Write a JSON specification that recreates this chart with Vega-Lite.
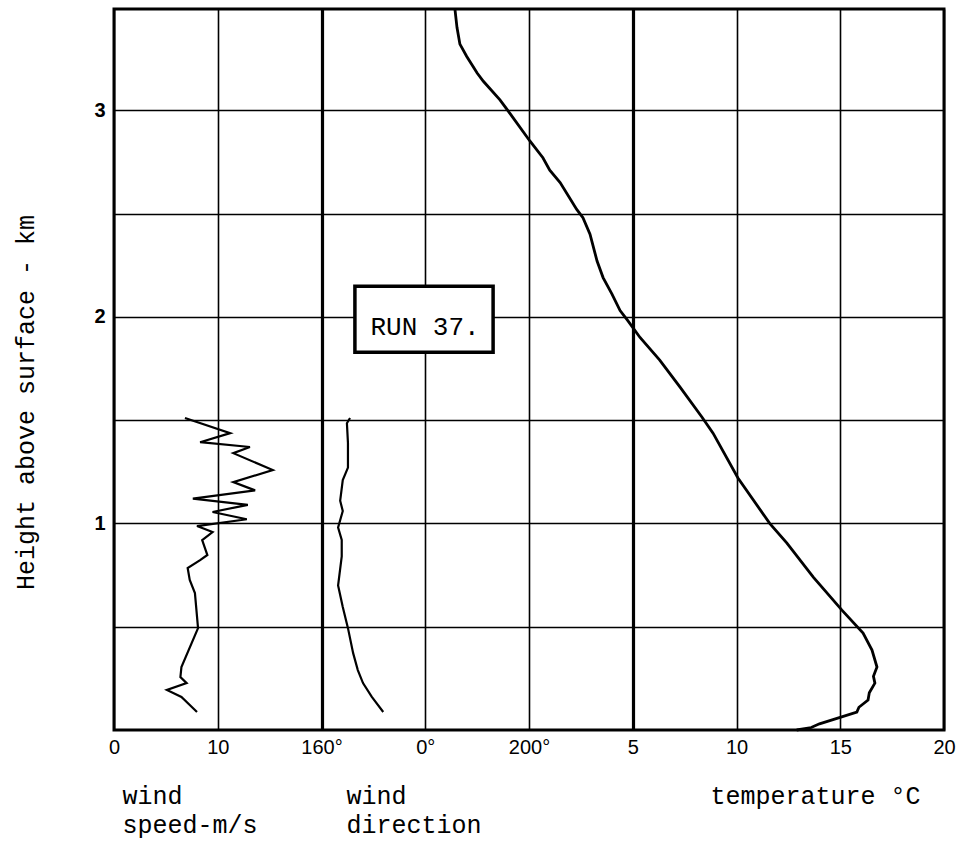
{
  "$schema": "https://vega.github.io/schema/vega-lite/v6.json",
  "width": 830,
  "height": 721,
  "autosize": {"type": "none"},
  "padding": {"left": 114, "top": 9, "right": 24, "bottom": 112},
  "background": "white",
  "config": {
    "view": {"stroke": "black", "strokeWidth": 3},
    "axis": {
      "grid": true,
      "gridColor": "black",
      "gridOpacity": 1,
      "gridWidth": 1.6,
      "domain": false,
      "ticks": false,
      "labelFont": "Liberation Sans",
      "labelFontSize": 20,
      "labelColor": "black",
      "labelFlush": false,
      "labelOverlap": false,
      "titleFont": "Liberation Mono",
      "titleFontSize": 25,
      "titleFontWeight": "normal",
      "titleColor": "black"
    }
  },
  "datasets": {
    "profiles": [
      {"series": "temperature", "km": 0.0, "value": 12.9},
      {"series": "temperature", "km": 0.012, "value": 13.6},
      {"series": "temperature", "km": 0.03, "value": 14.0},
      {"series": "temperature", "km": 0.05, "value": 14.65},
      {"series": "temperature", "km": 0.087, "value": 15.8},
      {"series": "temperature", "km": 0.11, "value": 15.9},
      {"series": "temperature", "km": 0.145, "value": 16.34},
      {"series": "temperature", "km": 0.18, "value": 16.4},
      {"series": "temperature", "km": 0.227, "value": 16.67},
      {"series": "temperature", "km": 0.26, "value": 16.6},
      {"series": "temperature", "km": 0.305, "value": 16.77},
      {"series": "temperature", "km": 0.387, "value": 16.53},
      {"series": "temperature", "km": 0.469, "value": 16.1},
      {"series": "temperature", "km": 0.58, "value": 15.08},
      {"series": "temperature", "km": 0.74, "value": 13.7},
      {"series": "temperature", "km": 0.905, "value": 12.43},
      {"series": "temperature", "km": 1.0, "value": 11.6},
      {"series": "temperature", "km": 1.22, "value": 10.07},
      {"series": "temperature", "km": 1.437, "value": 8.87},
      {"series": "temperature", "km": 1.514, "value": 8.34},
      {"series": "temperature", "km": 1.66, "value": 7.28},
      {"series": "temperature", "km": 1.79, "value": 6.3},
      {"series": "temperature", "km": 1.9, "value": 5.35},
      {"series": "temperature", "km": 1.98, "value": 4.77},
      {"series": "temperature", "km": 2.03, "value": 4.39},
      {"series": "temperature", "km": 2.11, "value": 4.0},
      {"series": "temperature", "km": 2.19, "value": 3.57},
      {"series": "temperature", "km": 2.27, "value": 3.28},
      {"series": "temperature", "km": 2.4, "value": 2.94},
      {"series": "temperature", "km": 2.48, "value": 2.6},
      {"series": "temperature", "km": 2.52, "value": 2.3},
      {"series": "temperature", "km": 2.65, "value": 1.5},
      {"series": "temperature", "km": 2.71, "value": 1.0},
      {"series": "temperature", "km": 2.77, "value": 0.67},
      {"series": "temperature", "km": 2.85, "value": 0.05},
      {"series": "temperature", "km": 2.985, "value": -0.92},
      {"series": "temperature", "km": 3.05, "value": -1.4},
      {"series": "temperature", "km": 3.14, "value": -2.2},
      {"series": "temperature", "km": 3.18, "value": -2.5},
      {"series": "temperature", "km": 3.26, "value": -3.0},
      {"series": "temperature", "km": 3.32, "value": -3.33},
      {"series": "temperature", "km": 3.4, "value": -3.47},
      {"series": "temperature", "km": 3.49, "value": -3.57},
      {"series": "speed", "km": 0.087, "value": 8.0},
      {"series": "speed", "km": 0.16, "value": 6.5},
      {"series": "speed", "km": 0.194, "value": 5.1},
      {"series": "speed", "km": 0.227, "value": 7.0},
      {"series": "speed", "km": 0.256, "value": 6.4},
      {"series": "speed", "km": 0.305, "value": 6.5},
      {"series": "speed", "km": 0.493, "value": 8.1},
      {"series": "speed", "km": 0.663, "value": 7.8},
      {"series": "speed", "km": 0.726, "value": 7.3},
      {"series": "speed", "km": 0.784, "value": 7.1},
      {"series": "speed", "km": 0.822, "value": 8.3},
      {"series": "speed", "km": 0.847, "value": 9.0},
      {"series": "speed", "km": 0.919, "value": 8.5},
      {"series": "speed", "km": 0.958, "value": 9.5},
      {"series": "speed", "km": 0.987, "value": 8.0},
      {"series": "speed", "km": 1.02, "value": 12.8},
      {"series": "speed", "km": 1.055, "value": 9.5},
      {"series": "speed", "km": 1.09, "value": 12.9},
      {"series": "speed", "km": 1.12, "value": 7.6},
      {"series": "speed", "km": 1.16, "value": 13.6},
      {"series": "speed", "km": 1.2, "value": 11.5},
      {"series": "speed", "km": 1.258, "value": 15.3},
      {"series": "speed", "km": 1.34, "value": 11.5},
      {"series": "speed", "km": 1.37, "value": 13.1},
      {"series": "speed", "km": 1.393, "value": 8.3},
      {"series": "speed", "km": 1.437, "value": 11.2},
      {"series": "speed", "km": 1.51, "value": 6.84},
      {"series": "direction", "km": 0.087, "value": 171.9},
      {"series": "direction", "km": 0.16, "value": 169.7},
      {"series": "direction", "km": 0.227, "value": 168.0},
      {"series": "direction", "km": 0.29, "value": 167.0},
      {"series": "direction", "km": 0.372, "value": 166.1},
      {"series": "direction", "km": 0.493, "value": 165.1},
      {"series": "direction", "km": 0.595, "value": 164.1},
      {"series": "direction", "km": 0.7, "value": 163.2},
      {"series": "direction", "km": 0.84, "value": 163.9},
      {"series": "direction", "km": 0.92, "value": 163.9},
      {"series": "direction", "km": 0.98, "value": 163.2},
      {"series": "direction", "km": 1.06, "value": 164.1},
      {"series": "direction", "km": 1.11, "value": 163.6},
      {"series": "direction", "km": 1.21, "value": 164.1},
      {"series": "direction", "km": 1.27, "value": 165.1},
      {"series": "direction", "km": 1.39, "value": 165.1},
      {"series": "direction", "km": 1.485, "value": 164.9},
      {"series": "direction", "km": 1.51, "value": 165.5}
    ]
  },
  "data": {"name": "profiles"},
  "layer": [
    {
      "transform": [{"filter": "datum.series == 'speed'"}],
      "mark": {"type": "line", "color": "black", "strokeWidth": 2.2},
      "encoding": {
        "order": {"field": "km", "type": "quantitative"},
        "y": {
          "field": "km",
          "type": "quantitative",
          "scale": {"domain": [0, 3.49], "nice": false, "zero": false},
          "axis": {
            "grid": true,
            "values": [0.5, 1, 1.5, 2, 2.5, 3],
            "labelExpr": "datum.value % 1 == 0 ? format(datum.value, 'd') : ''",
            "labelFontWeight": "bold",
            "labelPadding": 9,
            "title": "Height above surface - km",
            "titleX": -89,
            "titleY": 393,
            "titleAngle": 270,
            "titleAlign": "center",
            "titleBaseline": "middle"
          }
        },
        "x": {
          "field": "value",
          "type": "quantitative",
          "scale": {"domain": [0, 80], "nice": false, "zero": false},
          "axis": {
            "orient": "bottom",
            "grid": true,
            "values": [0, 10],
            "labelPadding": 7,
            "title": ["wind", "speed-m/s"],
            "titleX": 8,
            "titleY": 73,
            "titleAlign": "left",
            "titleAnchor": "start",
            "titleBaseline": "alphabetic",
            "titleLineHeight": 29
          }
        }
      }
    },
    {
      "transform": [{"filter": "datum.series == 'direction'"}],
      "mark": {"type": "line", "color": "black", "strokeWidth": 2.2},
      "encoding": {
        "order": {"field": "km", "type": "quantitative"},
        "y": {"field": "km", "type": "quantitative"},
        "x": {
          "field": "value",
          "type": "quantitative",
          "scale": {"domain": [120, 280], "nice": false, "zero": false},
          "axis": {
            "orient": "bottom",
            "grid": true,
            "values": [160, 180, 200],
            "labelExpr": "datum.value == 180 ? '0°' : datum.value + '°'",
            "labelPadding": 7,
            "gridWidth": {"condition": {"test": "datum.value == 160", "value": 3.2}, "value": 1.6},
            "title": ["wind", "direction"],
            "titleX": 232,
            "titleY": 73,
            "titleAlign": "left",
            "titleAnchor": "start",
            "titleBaseline": "alphabetic",
            "titleLineHeight": 29
          }
        }
      }
    },
    {
      "transform": [{"filter": "datum.series == 'temperature'"}],
      "mark": {"type": "line", "color": "black", "strokeWidth": 2.8},
      "encoding": {
        "order": {"field": "km", "type": "quantitative"},
        "y": {"field": "km", "type": "quantitative"},
        "x": {
          "field": "value",
          "type": "quantitative",
          "scale": {"domain": [-20, 20], "nice": false, "zero": false},
          "axis": {
            "orient": "bottom",
            "grid": true,
            "values": [5, 10, 15, 20],
            "labelPadding": 7,
            "gridWidth": {"condition": {"test": "datum.value == 5", "value": 3.2}, "value": 1.6},
            "title": "temperature °C",
            "titleX": 596,
            "titleY": 73,
            "titleAlign": "left",
            "titleAnchor": "start",
            "titleBaseline": "alphabetic"
          }
        }
      }
    },
    {
      "data": {"values": [{"label": "RUN 37."}]},
      "mark": {"type": "rect", "fill": "white", "stroke": "black", "strokeWidth": 3.5},
      "encoding": {
        "x": {"datum": -8.39, "type": "quantitative", "scale": {"domain": [-20, 20], "nice": false, "zero": false}, "axis": null},
        "x2": {"datum": -1.73},
        "y": {"datum": 2.148, "type": "quantitative"},
        "y2": {"datum": 1.829}
      }
    },
    {
      "data": {"values": [{"label": "RUN 37."}]},
      "mark": {"type": "text", "font": "Liberation Mono", "fontSize": 26, "color": "black", "align": "center", "baseline": "middle"},
      "encoding": {
        "x": {"datum": -5.01, "type": "quantitative", "scale": {"domain": [-20, 20], "nice": false, "zero": false}, "axis": null},
        "y": {"datum": 1.95, "type": "quantitative"},
        "text": {"field": "label"}
      }
    }
  ],
  "resolve": {"scale": {"x": "independent"}}
}
